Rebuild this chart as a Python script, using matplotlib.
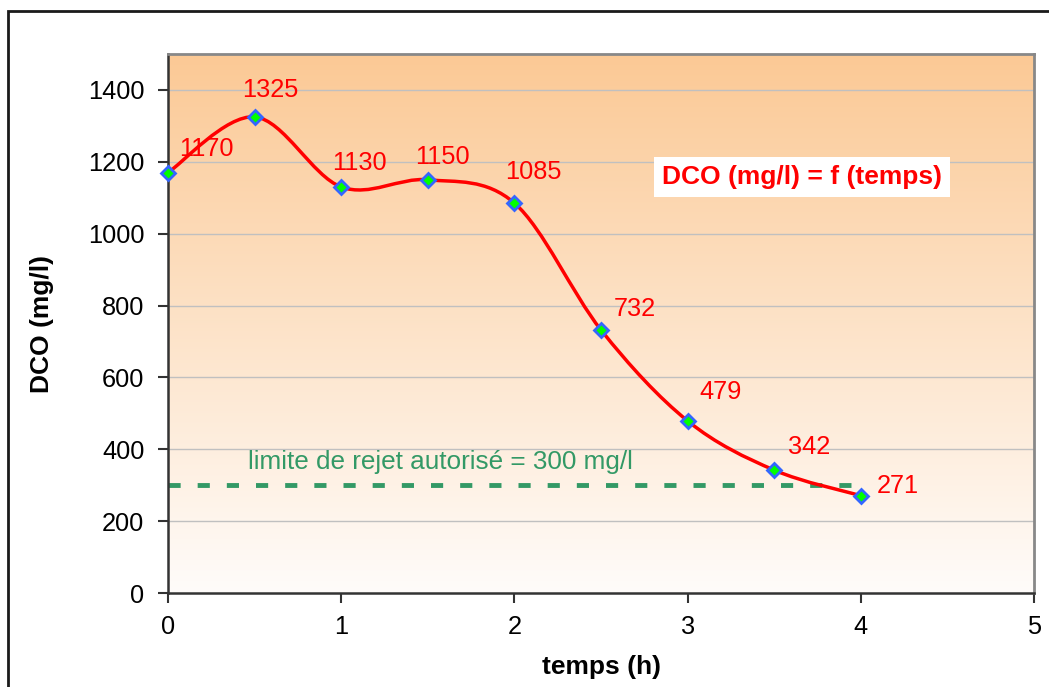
import numpy as np
import matplotlib.pyplot as plt
from matplotlib.path import Path
from matplotlib.patches import PathPatch, Rectangle
from matplotlib.colors import LinearSegmentedColormap

plt.rcParams.update({
    'font.family': ['Liberation Sans', 'DejaVu Sans'],
    'font.size': 18,
})

# Data
temps = [0, 0.5, 1, 1.5, 2, 2.5, 3, 3.5, 4]
dco = [1170, 1325, 1130, 1150, 1085, 732, 479, 342, 271]
limite = 300
limite_x = [0, 4]
x_ticks = [0, 1, 2, 3, 4, 5]
y_ticks = [0, 200, 400, 600, 800, 1000, 1200, 1400]

# label offsets (pixels, label centre relative to point)
label_offsets = [(38, 24), (16, 27), (18, 24), (15, 23), (19, 31),
                 (34, 21), (33, 29), (35, 23), (37, 10)]

RED = '#FF0000'
GREEN_LINE = '#339966'

fig = plt.figure(figsize=(10.49, 6.87), dpi=100)
ax = fig.add_axes([0.1602, 0.1368, 0.9857 - 0.1602, 0.9214 - 0.1368])
ax.set_xlim(0, 5)
ax.set_ylim(0, 1500)

# background gradient
cmap = LinearSegmentedColormap.from_list('bg', ['#FFFCFA', '#FBC995'])
grad = np.linspace(0, 1, 256).reshape(-1, 1)
ax.imshow(grad, cmap=cmap, aspect='auto', extent=[0, 5, 0, 1500],
          origin='lower', zorder=0)

# grid
for yv in y_ticks[1:]:
    ax.axhline(yv, color='#C0C0C0', linewidth=1, zorder=1)

# smoothed line (Catmull-Rom style bezier, like Excel)
pts = np.column_stack([temps, dco]).astype(float)
verts = [pts[0]]
codes = [Path.MOVETO]
n = len(pts)
for i in range(n - 1):
    p0 = pts[i - 1] if i > 0 else pts[i]
    p1 = pts[i]
    p2 = pts[i + 1]
    p3 = pts[i + 2] if i + 2 < n else pts[i + 1]
    c1 = p1 + (p2 - p0) / 6
    c2 = p2 - (p3 - p1) / 6
    verts += [c1, c2, p2]
    codes += [Path.CURVE4] * 3
curve = PathPatch(Path(verts, codes), facecolor='none', edgecolor=RED,
                  linewidth=2.5, zorder=3)
ax.add_patch(curve)

# limit line
ax.plot(limite_x, [limite, limite], color=GREEN_LINE, linewidth=3.5,
        dashes=(2.5, 3.5), zorder=2)
ax.text(1.57, 364, 'limite de rejet autorisé = 300 mg/l', color=GREEN_LINE,
        fontsize=18.8, ha='center', va='center', zorder=4)

# markers
ax.plot(temps, dco, linestyle='none', marker='D', markersize=7.5,
        markerfacecolor='#00FF00', markeredgecolor='#3366FF',
        markeredgewidth=2, zorder=5, clip_on=False)

# data labels
for x, y, (dx, dy) in zip(temps, dco, label_offsets):
    ax.annotate(f'{y}', xy=(x, y), xytext=(dx, dy), textcoords='offset pixels',
                ha='center', va='center', color=RED, fontsize=18.3,
                annotation_clip=False, zorder=6)

# title box
ax.text(3.66, 1158, 'DCO (mg/l) = f (temps)', color=RED, fontsize=19,
        fontweight='bold', ha='center', va='center', zorder=6,
        bbox=dict(boxstyle='square,pad=0.3', facecolor='white',
                  edgecolor='none'))

# axes styling
ax.set_xticks(x_ticks)
ax.set_yticks(y_ticks)
ax.tick_params(axis='both', direction='out', length=7, width=1.5,
               color='#333333', labelsize=18.3)
ax.tick_params(axis='y', pad=10)
ax.tick_params(axis='x', pad=9)
ax.spines['left'].set_color('#333333')
ax.spines['bottom'].set_color('#333333')
ax.spines['left'].set_linewidth(1.8)
ax.spines['bottom'].set_linewidth(1.8)
for s in ['top', 'right']:
    ax.spines[s].set_color('#888888')
    ax.spines[s].set_linewidth(2)

ax.set_xlabel('temps (h)', fontweight='bold', fontsize=19)
ax.set_ylabel('DCO (mg/l)', fontweight='bold', fontsize=19)
ax.xaxis.set_label_coords(0.5, -0.137)
ax.xaxis.label.set_va('center')
ax.yaxis.set_label_coords(-0.1455, 0.5)
ax.yaxis.label.set_va('center')

# outer border
fig.patches.append(Rectangle((8 / 1049, -0.1), 1.2, 1 - 11 / 687 + 0.1,
                             transform=fig.transFigure, fill=False,
                             edgecolor='#1a1a1a', linewidth=2))

fig.savefig('out.png', dpi=100)
